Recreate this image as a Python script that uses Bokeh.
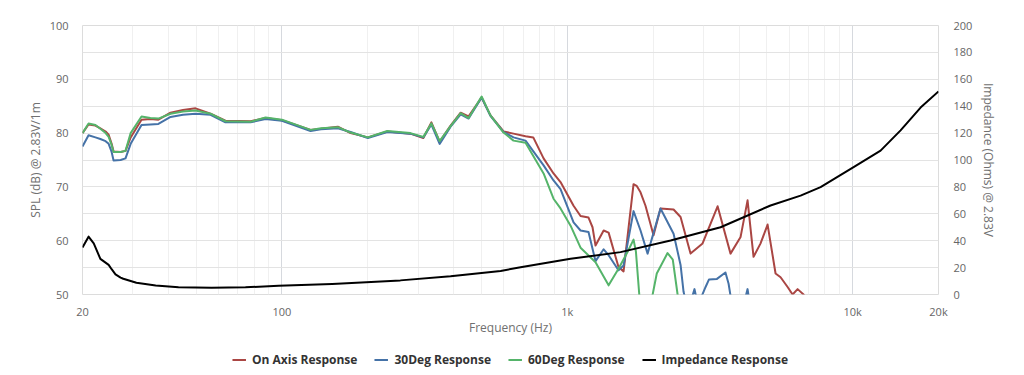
from bokeh.plotting import figure
from bokeh.layouts import column
from bokeh.models import Range1d, LinearAxis, FixedTicker, Legend, LegendItem
from bokeh.embed import file_html
from bokeh.resources import INLINE

# ---- data ----
freq_on = [20, 21, 22.2, 23.1, 24.1, 24.7, 25.3, 25.7, 27.2, 28.3, 29.5, 32.2, 34.6, 36.9, 40.7, 45, 49.8,
           56.2, 63.4, 77.6, 87.6, 100, 126, 137, 157, 174, 200, 234, 282, 313, 334, 357, 390, 423, 451,
           501, 538, 598, 648, 714, 760, 826, 895, 947, 1052, 1113, 1187, 1226, 1256, 1341, 1396, 1512,
           1575, 1707, 1750, 1806, 1880, 2006, 2122, 2358, 2495, 2704, 2980, 3364, 3734, 4050, 4284, 4496,
           4758, 5036, 5370, 5592, 5918, 6162, 6416, 6732, 7122]
spl_on = [80.0, 81.6, 81.4, 80.9, 80.3, 79.7, 78.0, 76.6, 76.5, 76.7, 79.2, 82.5, 82.6, 82.5, 83.8, 84.3,
          84.6, 83.6, 82.3, 82.2, 82.8, 82.4, 80.6, 80.8, 81.2, 80.0, 79.2, 80.3, 79.9, 79.1, 82.0, 78.4,
          81.4, 83.8, 83.1, 86.6, 83.3, 80.3, 79.9, 79.4, 79.2, 75.3, 72.5, 70.9, 66.5, 64.6, 64.3, 62.5,
          59.1, 61.9, 61.5, 55.1, 54.3, 70.5, 70.2, 69.0, 66.5, 61.0, 66.0, 65.8, 64.4, 57.6, 59.5, 66.4, 57.6,
          60.7, 67.5, 57.0, 59.5, 63.0, 53.9, 53.2, 51.4, 50.0, 51.0, 50.0, 47.0]

freq_30 = [20, 21, 22.2, 23.1, 24.1, 24.7, 25.3, 25.7, 27.2, 28.3, 29.5, 32.2, 34.6, 36.9, 40.7, 45, 49.8,
           56.2, 63.4, 77.6, 87.6, 100, 126, 137, 157, 174, 200, 234, 282, 313, 334, 357, 390, 423, 451,
           501, 538, 598, 648, 714, 826, 895, 947, 1052, 1113, 1187, 1226, 1256, 1341, 1396, 1512, 1575,
           1707, 1806, 1912, 2122, 2358, 2495, 2556, 2650, 2792, 2870, 3053, 3139, 3346, 3584, 3676,
           3780, 4100, 4284, 4400]
spl_30 = [77.5, 79.6, 79.2, 78.9, 78.5, 78.0, 76.5, 74.9, 75.0, 75.3, 78.0, 81.5, 81.6, 81.7, 83.0, 83.4,
          83.6, 83.4, 82.0, 82.0, 82.6, 82.3, 80.4, 80.7, 80.9, 80.2, 79.1, 80.2, 79.9, 79.2, 81.6, 78.0,
          81.2, 83.5, 82.7, 86.6, 83.2, 80.2, 79.2, 78.6, 74.0, 71.2, 69.6, 63.4, 61.9, 61.6, 58.5, 56.2,
          58.4, 57.3, 54.5, 55.4, 65.5, 61.9, 57.6, 66.0, 61.3, 55.5, 50.5, 47.0, 51.0, 48.0, 51.4, 52.8,
          52.9, 54.1, 52.0, 48.0, 47.0, 51.0, 47.0]

freq_60 = [20, 21, 22.2, 23.1, 24.1, 24.7, 25.3, 25.7, 27.2, 28.3, 29.5, 32.2, 34.6, 36.9, 40.7, 45, 49.8,
           56.2, 63.4, 77.6, 87.6, 100, 126, 137, 157, 174, 200, 234, 282, 313, 334, 357, 390, 423, 451,
           501, 538, 598, 648, 714, 826, 895, 947, 1027, 1113, 1256, 1396, 1512, 1626, 1707, 1740, 1800,
           1958, 2059, 2246, 2343, 2436, 2500]
spl_60 = [80.0, 81.8, 81.5, 80.8, 80.0, 79.3, 77.8, 76.5, 76.5, 76.7, 80.0, 83.1, 82.8, 82.7, 83.6, 84.0,
          84.2, 83.6, 82.2, 82.1, 82.9, 82.5, 80.6, 80.9, 81.1, 80.1, 79.2, 80.4, 80.0, 79.3, 81.8, 78.5,
          81.3, 83.7, 82.8, 86.8, 83.3, 80.1, 78.6, 78.2, 72.5, 67.8, 66.0, 62.8, 58.7, 56.0, 51.7, 54.8,
          57.9, 60.2, 58.0, 48.0, 48.0, 53.9, 57.7, 56.5, 50.0, 46.0]

freq_imp = [20, 21.0, 21.9, 23.1, 24.7, 25.3, 26.1, 27.2, 27.8, 30.9, 36.1, 43.4, 56.7, 74.5, 97.3, 150,
            260, 390, 584, 686, 1027, 1537, 2302, 3446, 5158, 6572, 7722, 10080, 12532, 14728, 17308, 20000]
imp = [35, 43, 38, 26.5, 22, 18.8, 15, 12.6, 11.7, 8.7, 6.7, 5.4, 5.0, 5.3, 6.5, 7.8, 10.5, 13.5, 17.5,
       20.3, 26.5, 31.5, 40.1, 50, 66.2, 73.5, 79.8, 94.7, 107, 122, 139, 151]

x_ticks = [20, 100, 1000, 10000, 20000]
x_tick_labels = ["20", "100", "1k", "10k", "20k"]
x_minor = [30, 40, 50, 60, 70, 80, 90, 200, 300, 400, 500, 600, 700, 800, 900,
           2000, 3000, 4000, 5000, 6000, 7000, 8000, 9000]
spl_ticks = [50, 60, 70, 80, 90, 100]
spl_grid = [50, 55, 60, 65, 70, 75, 80, 85, 90, 95, 100]
imp_ticks = [0, 20, 40, 60, 80, 100, 120, 140, 160, 180, 200]

series_names = ["On Axis Response", "30Deg Response", "60Deg Response", "Impedance Response"]
series_colors = ["#aa4643", "#4572a7", "#55b46a", "#000000"]

TICK_FONT = "Open Sans"
W = 1016

p = figure(width=W, height=345, x_axis_type="log",
           x_range=Range1d(20, 20000), y_range=Range1d(50, 100),
           output_backend="svg", toolbar_location=None,
           min_border_left=82, min_border_right=W - 938, min_border_top=25, min_border_bottom=51)
p.outline_line_color = "#dcdcdc"
p.background_fill_color = "white"
p.border_fill_color = "white"

# grids
p.xgrid.ticker = FixedTicker(ticks=x_ticks, minor_ticks=x_minor)
p.xgrid.grid_line_color = "#d6d9de"
p.xgrid.minor_grid_line_color = "#f0f0f0"
p.ygrid.ticker = FixedTicker(ticks=spl_grid)
p.ygrid.grid_line_color = "#e3e3e3"

# x axis
xa = p.xaxis[0]
xa.ticker = FixedTicker(ticks=x_ticks)
xa.major_label_overrides = {t: l for t, l in zip(x_ticks, x_tick_labels)}
xa.axis_label = "Frequency (Hz)"

# left axis
ya = p.yaxis[0]
ya.ticker = FixedTicker(ticks=spl_ticks)
ya.axis_label = "SPL (dB) @ 2.83V/1m"

# right axis
p.extra_y_ranges = {"imp": Range1d(0, 200)}
ra = LinearAxis(y_range_name="imp", ticker=FixedTicker(ticks=imp_ticks),
                axis_label="Impedance (Ohms) @ 2.83V")
p.add_layout(ra, "right")

for ax in (xa, ya, ra):
    ax.axis_line_color = None
    ax.major_tick_line_color = None
    ax.minor_tick_line_color = None
    ax.major_tick_out = 0
    ax.major_tick_in = 0
    ax.minor_tick_out = 0
    ax.minor_tick_in = 0
    ax.major_label_text_font = TICK_FONT
    ax.major_label_text_font_size = "11px"
    ax.major_label_text_color = "#666666"
    ax.axis_label_text_font = TICK_FONT
    ax.axis_label_text_font_size = "12px"
    ax.axis_label_text_font_style = "normal"
    ax.axis_label_text_color = "#707070"
xa.major_label_standoff = 9
xa.axis_label_standoff = -3
ya.major_label_standoff = 14
ya.axis_label_standoff = 3
ra.major_label_standoff = 15
ra.axis_label_standoff = 5

p.line(freq_on, spl_on, line_color=series_colors[0], line_width=2, line_join="round")
p.line(freq_30, spl_30, line_color=series_colors[1], line_width=2, line_join="round")
p.line(freq_60, spl_60, line_color=series_colors[2], line_width=2, line_join="round")
p.line(freq_imp, imp, y_range_name="imp", line_color=series_colors[3], line_width=2, line_join="round")

# ---- legend strip below the chart (key renderers sit outside its visible range) ----
lg = figure(width=W, height=28, x_range=Range1d(0, 1), y_range=Range1d(0, 1),
            output_backend="svg", toolbar_location=None, min_border=0)
lg.axis.visible = False
lg.grid.visible = False
lg.outline_line_color = None
lg.border_fill_color = "white"
keys = [lg.line([5, 6], [5, 6], line_color=c, line_width=2) for c in series_colors]
legend = Legend(items=[LegendItem(label=n, renderers=[r]) for n, r in zip(series_names, keys)],
                orientation="horizontal", location="center")
legend.border_line_color = None
legend.background_fill_alpha = 0
legend.label_text_font = TICK_FONT
legend.label_text_font_style = "bold"
legend.label_text_font_size = "12px"
legend.label_text_color = "#333333"
legend.glyph_width = 14
legend.glyph_height = 14
legend.label_height = 14
legend.label_standoff = 6
legend.spacing = 17
legend.padding = 0
legend.margin = 0
lg.add_layout(legend, "center")

layout = column(p, lg, spacing=0)
open("out.html", "w").write(file_html(layout, INLINE))
